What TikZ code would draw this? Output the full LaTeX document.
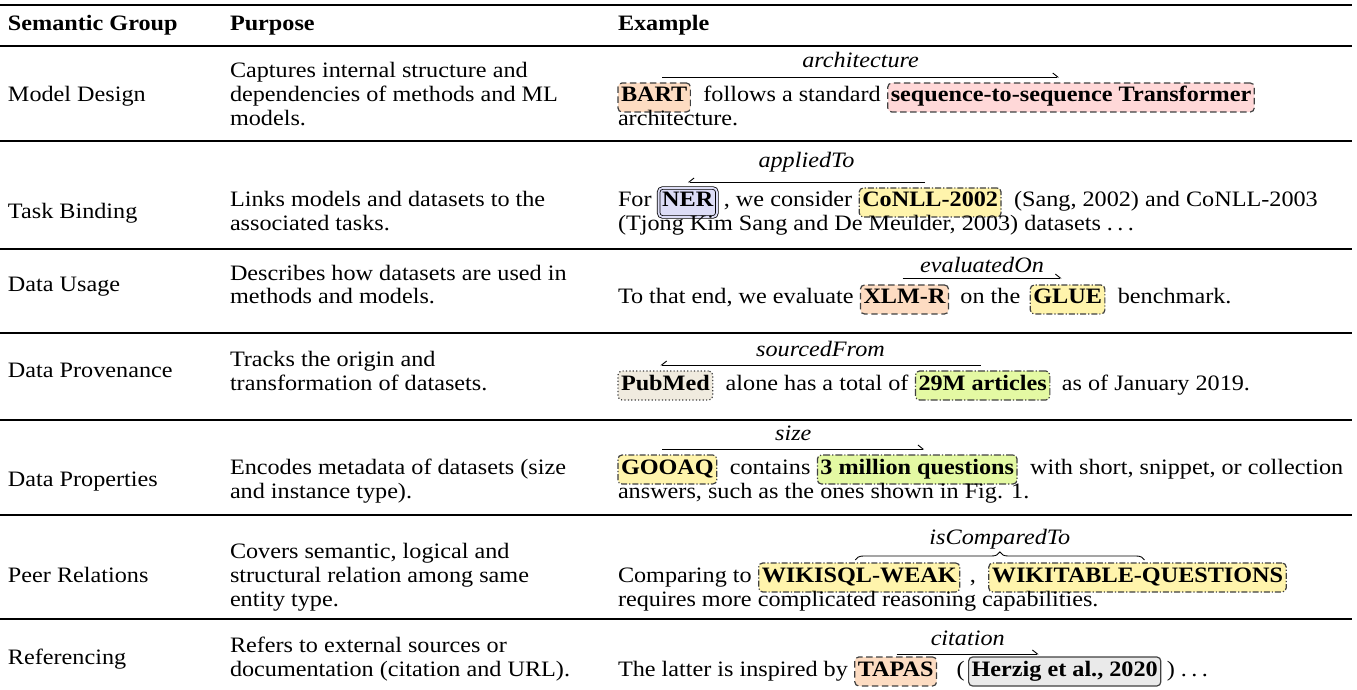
\documentclass[tikz,border=0pt]{standalone}
\usepackage{fontspec}
\setmainfont[FakeStretch=1.1]{Liberation Serif}
\usetikzlibrary{arrows.meta,calc,decorations.pathreplacing}
\definecolor{cModel}{HTML}{FDDCC2}
\definecolor{cArch}{HTML}{FFD8D8}
\definecolor{cTask}{HTML}{DDDDF6}
\definecolor{cData}{HTML}{FFF4AC}
\definecolor{cSrc}{HTML}{F0EBDF}
\definecolor{cQuant}{HTML}{E4F9A3}
\definecolor{cRef}{HTML}{EAEAEA}
\definecolor{cBorder}{HTML}{404040}
\newcommand{\mydots}{.\hspace{2.2pt}.\hspace{2.2pt}.}
\begin{document}
\begin{tikzpicture}[x=0.5pt,y=-0.5pt,
  every node/.style={font=\fontsize{11pt}{12pt}\selectfont},
  txt/.style={inner sep=0pt, outer sep=0pt, anchor=base west},
  hdr/.style={txt, font=\fontsize{11pt}{12pt}\selectfont\bfseries},
  lab/.style={inner sep=0pt, outer sep=0pt, anchor=base, font=\fontsize{11pt}{12pt}\selectfont\itshape},
  ent/.style={draw=cBorder, line width=0.6pt, rounded corners=2pt, inner xsep=1.5pt, inner ysep=2pt,
    outer sep=0pt, text height=7.5pt, text depth=3pt, anchor=base west,
    font=\fontsize{11pt}{12pt}\selectfont\bfseries},
  model/.style={ent, fill=cModel, dash pattern=on 3.2pt off 1.8pt},
  arch/.style={ent, fill=cArch, dash pattern=on 3.2pt off 1.8pt},
  task/.style={ent, fill=cTask, line width=0.4pt, draw=black, double=cTask, double distance=0.9pt, inner xsep=1.8pt},
  data/.style={ent, fill=cData, dash pattern=on 3pt off 1pt on 0.6pt off 1pt},
  src/.style={ent, fill=cSrc, dash pattern=on 0.6pt off 1.1pt},
  quant/.style={ent, fill=cQuant, dash pattern=on 3.5pt off 1pt on 0.6pt off 1pt},
  refbox/.style={ent, fill=cRef, dash pattern=},
  relR/.style={line width=0.45pt, -{Straight Barb[harpoon, length=2.5pt, width=4pt]}},
  relL/.style={line width=0.45pt, -{Straight Barb[harpoon, swap, length=2.5pt, width=4pt]}},
  brc/.style={line width=0.45pt, decorate, decoration={brace, amplitude=4pt}},
  toprl/.style={line width=1pt},
  midrl/.style={line width=0.6pt}
]
\useasboundingbox (0,0) rectangle (1357,690);

% rules
\draw[toprl] (0,5) -- (1352,5);
\draw[midrl] (0,46) -- (1352,46);
\draw[midrl] (0,141) -- (1352,141);
\draw[midrl] (0,249) -- (1352,249);
\draw[midrl] (0,333) -- (1352,333);
\draw[midrl] (0,420) -- (1352,420);
\draw[midrl] (0,515) -- (1352,515);
\draw[midrl] (0,619) -- (1352,619);

% header
\node[hdr] (h1) at (8,31) {Semantic Group};
\node[hdr] (h2) at (230,31) {Purpose};
\node[hdr] (h3) at (618,31) {Example};

% ---------- Row 1
\node[txt] (g1) at (8,102) {Model Design};
\node[txt] (p1a) at (230,78) {Captures internal structure and};
\node[txt] (p1b) at (230,102) {dependencies of methods and ML};
\node[txt] (p1c) at (230,126) {models.};
\node[model] (bart) at (618,102) {BART};
\node[txt] (t1a) at ([xshift=6.5pt]bart.base east) {follows a standard};
\node[arch] (s2s) at ([xshift=3.5pt]t1a.base east) {sequence-to-sequence Transformer};
\node[txt] (t1b) at (618,126) {architecture.};
\draw[relR] ($(bart.north)+(8,-6)$) coordinate (a1s) -- ($(s2s.north)+(-12,-6)$) coordinate (a1e);
\node[lab] (l1) at ($(a1s)!0.5!(a1e)+(0,-9)$) {architecture};

% ---------- Row 2
\node[txt] (g2) at (8,219) {Task Binding};
\node[txt] (p2a) at (230,207) {Links models and datasets to the};
\node[txt] (p2b) at (230,231) {associated tasks.};
\node[txt] (t2a) at (618,207) {For};
\node[task] (ner) at ([xshift=3.5pt]t2a.base east) {NER};
\node[txt] (t2b) at ([xshift=3.5pt]ner.base east) {, we consider};
\node[data] (conll) at ([xshift=3.5pt]t2b.base east) {CoNLL-2002};
\node[txt] (t2c) at ([xshift=6.5pt]conll.base east) {(Sang, 2002) and CoNLL-2003};
\node[txt] (t2d) at (618,231) {(Tjong Kim Sang and De Meulder, 2003) datasets \mydots};
\draw[relL] ($(conll.north)+(-5,-6)$) coordinate (a2s) -- (a2s -| ner.north) coordinate (a2e);
\node[lab] (l2) at ($(a2s)!0.5!(a2e)+(0,-14)$) {appliedTo};

% ---------- Row 3
\node[txt] (g3) at (8,292) {Data Usage};
\node[txt] (p3a) at (230,280) {Describes how datasets are used in};
\node[txt] (p3b) at (230,304) {methods and models.};
\node[txt] (t3a) at (618,304) {To that end, we evaluate};
\node[model] (xlmr) at ([xshift=3.5pt]t3a.base east) {XLM-R};
\node[txt] (t3b) at ([xshift=6pt]xlmr.base east) {on the};
\node[data] (glue) at ([xshift=5pt]t3b.base east) {GLUE};
\node[txt] (t3c) at ([xshift=6.5pt]glue.base east) {benchmark.};
\draw[relR] ($(xlmr.north)+(-2,-7)$) coordinate (a3s) -- ($(glue.north)+(-6,-7)$) coordinate (a3e);
\node[lab] (l3) at ($(a3s)!0.5!(a3e)+(0,-6)$) {evaluatedOn};

% ---------- Row 4
\node[txt] (g4) at (8,378) {Data Provenance};
\node[txt] (p4a) at (230,366) {Tracks the origin and};
\node[txt] (p4b) at (230,390) {transformation of datasets.};
\node[src] (pubmed) at (618,390) {PubMed};
\node[txt] (t4a) at ([xshift=6.5pt]pubmed.base east) {alone has a total of};
\node[quant] (m29) at ([xshift=3.5pt]t4a.base east) {29M articles};
\node[txt] (t4b) at ([xshift=6pt]m29.base east) {as of January 2019.};
\draw[relL] ($(m29.north)+(-2,-6)$) coordinate (a4s) -- ($(pubmed.north)+(-5,-6)$) coordinate (a4e);
\node[lab] (l4) at ($(a4s)!0.5!(a4e)+(0,-8)$) {sourcedFrom};

% ---------- Row 5
\node[txt] (g5) at (8,486) {Data Properties};
\node[txt] (p5a) at (230,474) {Encodes metadata of datasets (size};
\node[txt] (p5b) at (230,498) {and instance type).};
\node[data] (gooaq) at (618,474) {GOOAQ};
\node[txt] (t5a) at ([xshift=6.5pt]gooaq.base east) {contains};
\node[quant] (q3m) at ([xshift=3.5pt]t5a.base east) {3 million questions};
\node[txt] (t5b) at ([xshift=6.5pt]q3m.base east) {with short, snippet, or collection};
\node[txt] (t5c) at (618,498) {answers, such as the ones shown in Fig. 1.};
\draw[relR] ($(gooaq.north)+(-5,-6)$) coordinate (a5s) -- ($(q3m.north)+(7,-6)$) coordinate (a5e);
\node[lab] (l5) at ($(a5s)!0.5!(a5e)+(0,-9)$) {size};

% ---------- Row 6
\node[txt] (g6) at (8,582) {Peer Relations};
\node[txt] (p6a) at (230,558) {Covers semantic, logical and};
\node[txt] (p6b) at (230,582) {structural relation among same};
\node[txt] (p6c) at (230,606) {entity type.};
\node[txt] (t6a) at (618,582) {Comparing to};
\node[data] (wsql) at ([xshift=3.5pt]t6a.base east) {WIKISQL-WEAK};
\node[txt] (t6b) at ([xshift=5pt]wsql.base east) {,};
\node[data] (wtq) at ([xshift=6.5pt]t6b.base east) {WIKITABLE-QUESTIONS};
\node[txt] (t6c) at (618,606) {requires more complicated reasoning capabilities.};
\draw[brc] ($(wsql.north)+(-4,-3)$) coordinate (b6s) -- ($(wtq.north)+(7,-3)$) coordinate (b6e);
\node[lab] (l6) at ($(b6s)!0.5!(b6e)+(0,-16)$) {isComparedTo};

% ---------- Row 7
\node[txt] (g7) at (8,664) {Referencing};
\node[txt] (p7a) at (230,652) {Refers to external sources or};
\node[txt] (p7b) at (230,676) {documentation (citation and URL).};
\node[txt] (t7a) at (618,676) {The latter is inspired by};
\node[model] (tapas) at ([xshift=3.5pt]t7a.base east) {TAPAS};
\node[txt] (t7b) at ([xshift=10pt]tapas.base east) {(};
\node[refbox] (herzig) at ([xshift=2pt]t7b.base east) {Herzig et al., 2020};
\node[txt] (t7c) at ([xshift=3pt]herzig.base east) {) \mydots};
\draw[relR] ($(tapas.north)+(1,-3)$) coordinate (a7s) -- ($(herzig.north)+(-26,-3)$) coordinate (a7e);
\node[lab] (l7) at ($(a7s)!0.5!(a7e)+(0,-9)$) {citation};
\end{tikzpicture}
\end{document}
